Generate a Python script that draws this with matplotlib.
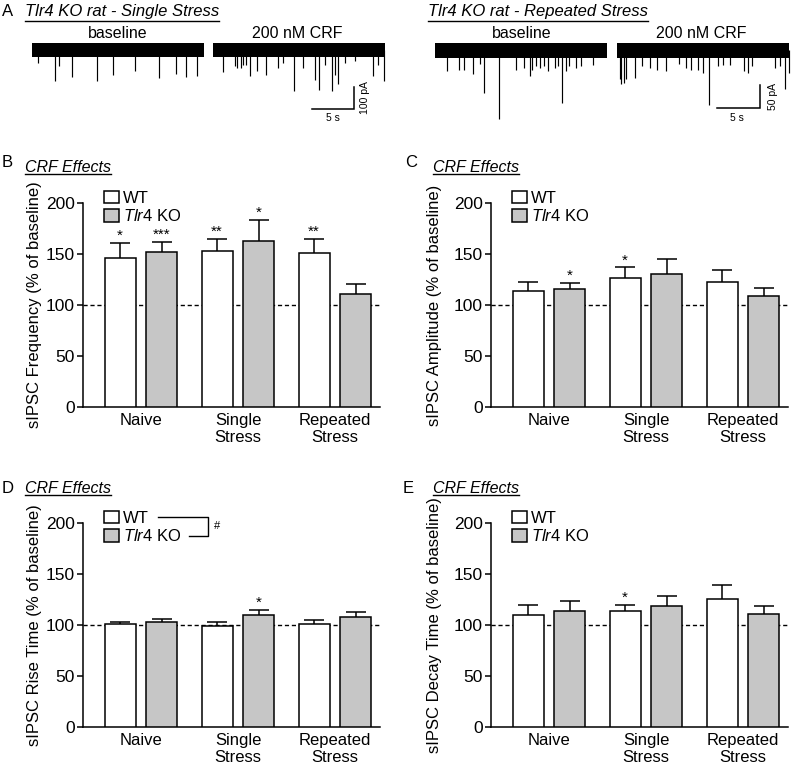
import numpy as np
import matplotlib.pyplot as plt
from matplotlib.patches import Rectangle
from matplotlib.lines import Line2D

plt.rcParams['font.family'] = ['Liberation Sans', 'DejaVu Sans']
plt.rcParams['mathtext.fontset'] = 'custom'
plt.rcParams['mathtext.it'] = 'Liberation Sans:italic'
plt.rcParams['mathtext.rm'] = 'Liberation Sans'

W, H = 791, 769
fig = plt.figure(figsize=(W / 100, H / 100), dpi=100)


def fx(x):
    return x / W


def fy(y):
    return 1 - y / H


# ---------------- data ----------------
groups = ['Naive', 'Single\nStress', 'Repeated\nStress']

freq_wt, freq_wt_err = [146, 153, 151], [15, 12, 13.5]
freq_ko, freq_ko_err = [151.5, 163, 111], [10, 20.5, 9.5]
freq_wt_sig, freq_ko_sig = ['*', '**', '**'], ['***', '*', '']

amp_wt, amp_wt_err = [113.5, 126.3, 123], [9, 10.5, 11]
amp_ko, amp_ko_err = [115.8, 130.5, 109], [5.5, 15, 8]
amp_wt_sig, amp_ko_sig = ['', '*', ''], ['*', '', '']

rise_wt, rise_wt_err = [101, 99, 101], [2, 4.3, 3.6]
rise_ko, rise_ko_err = [102.6, 110, 108], [3.4, 4.5, 5]
rise_wt_sig, rise_ko_sig = ['', '', ''], ['', '*', '']

decay_wt, decay_wt_err = [110, 113.5, 125.3], [9.4, 6.3, 13.7]
decay_ko, decay_ko_err = [113.5, 119, 111], [9.9, 9.7, 7.4]
decay_wt_sig, decay_ko_sig = ['', '*', ''], ['', '', '']

# example traces: event times (s) and peak amplitudes (pA, downward)
ss_base_t = [0.7, 2.7, 3.2, 4.8, 7.7, 9.6, 12.3, 15.1, 17.2, 18.3, 19.7]
ss_base_a = [60, 144, 74, 125, 144, 114, 98, 129, 110, 125, 121]
ss_crf_t = [1.2, 2.6, 2.9, 3.3, 3.6, 3.9, 4.4, 5.2, 6.3, 7.7, 8.3, 9.6, 10.7,
            12.1, 12.6, 13.3, 14.2, 14.5, 14.9, 15.7, 16.9, 19.0, 19.6, 20.4]
ss_crf_a = [99, 75, 83, 83, 68, 68, 121, 98, 114, 83, 60, 188, 83,
            138, 182, 68, 188, 114, 156, 60, 51, 121, 68, 144]
rs_base_t = [1.4, 2.8, 3.4, 4.4, 5.2, 5.7, 7.4, 9.4, 10.4, 11.0, 11.3, 11.7,
             12.2, 12.7, 13.1, 14.0, 14.3, 14.8, 15.2, 15.6, 16.4, 17.0, 18.4]
rs_base_a = [45, 42, 42, 52, 31, 92, 150, 42, 38, 56, 42, 34,
             38, 34, 45, 38, 34, 115, 45, 34, 38, 34, 33]
rs_crf_t = [0.3, 0.5, 0.8, 1.0, 2.1, 2.9, 3.8, 4.7, 5.7, 7.2, 8.0, 8.6, 9.4,
            10.0, 10.7, 11.8, 12.3, 13.1, 14.8, 15.2, 15.7, 18.4, 19.0, 19.5, 20.0]
rs_crf_a = [63, 74, 71, 63, 60, 34, 38, 42, 45, 31, 38, 42, 42,
            49, 120, 34, 33, 33, 45, 49, 34, 38, 34, 85, 49]

gray = '#C6C6C6'
underlines = []


def utext(x, y, s, size, gap):
    t = fig.text(fx(x), fy(y), s, fontsize=size, style='italic',
                 ha='left', va='baseline')
    underlines.append((t, y + gap))


# ---------------- panel A: traces ----------------
def trace_axes(rect, xlim, ylim, traces, noise, dur, sbar):
    ax = fig.add_axes(rect)
    ax.set_xlim(*xlim)
    ax.set_ylim(*ylim)
    ax.axis('off')
    for start, times, amps in traces:
        ax.fill_between([start, start + dur], -noise, noise, color='black', lw=0)
        ax.vlines(np.array(times) + start, 0, -np.array(amps), color='black', lw=0.85)
    tx, ty, ts, pa = sbar
    ax.plot([tx - ts, tx, tx], [ty, ty, ty + pa], color='black', lw=1.1,
            solid_joinstyle='miter')
    return ax


trace_axes([fx(27.8), fy(125), 365.4 / W, 95 / H], (-0.5, 43), (-342, 89.5),
           [(0, ss_base_t, ss_base_a), (21.55, ss_crf_t, ss_crf_a)],
           32, 20.5, (38.3, -270, 5, 100))
trace_axes([fx(430.7), fy(125), 360.5 / W, 95 / H], (-0.5, 41.42), (-162.6, 43.9),
           [(0, rs_base_t, rs_base_a), (21.16, rs_crf_t, rs_crf_a)],
           16, 20.0, (37.8, -126, 5, 50))

fig.text(fx(2), fy(16.5), 'A', fontsize=12, va='baseline')
utext(25, 16, 'Tlr4 KO rat - Single Stress', 12, 4.5)
utext(428, 16, 'Tlr4 KO rat - Repeated Stress', 12, 4.5)
for x, s in [(118, 'baseline'), (297.5, '200 nM CRF'),
             (521.7, 'baseline'), (701.7, '200 nM CRF')]:
    fig.text(fx(x), fy(38.5), s, fontsize=11.5, ha='center', va='baseline')
fig.text(fx(332.5), fy(121), '5 s', fontsize=7.5, ha='center', va='baseline')
fig.text(fx(737), fy(121), '5 s', fontsize=7.5, ha='center', va='baseline')
fig.text(fx(365.5), fy(97.5), '100 pA', fontsize=7.5, rotation=90,
         ha='center', va='center')
fig.text(fx(773), fy(96.7), '50 pA', fontsize=7.5, rotation=90,
         ha='center', va='center')


# ---------------- bar panels ----------------
def bar_panel(left, bottom, wt, wt_err, ko, ko_err, wt_sig, ko_sig,
              ylabel, label_x):
    ax = fig.add_axes([fx(left), fy(bottom), 297 / W, 204 / H])
    x = np.arange(len(groups))
    bw, off = 0.32, 0.216
    ax.axhline(100, color='black', lw=1, ls=(0, (3, 2)), zorder=1)
    for o, vals, errs, sig, col in [(-off, wt, wt_err, wt_sig, 'white'),
                                    (off, ko, ko_err, ko_sig, gray)]:
        ax.errorbar(x + o, vals, yerr=errs, fmt='none', ecolor='black',
                    elinewidth=1.1, capsize=7, capthick=1.1, zorder=2)
        ax.bar(x + o, vals, width=bw, color=col, edgecolor='black', lw=1.1, zorder=3)
        for xi, v, e, s in zip(x + o, vals, errs, sig):
            if s:
                ax.text(xi, v + e + 3, s, ha='center', va='baseline', fontsize=11)
    ax.set_xlim(-0.598, 2.464)
    ax.set_ylim(0, 200)
    ax.set_yticks([0, 50, 100, 150, 200])
    ax.set_xticks(x)
    ax.set_xticklabels(groups, fontsize=12)
    ax.tick_params(axis='x', length=0, pad=4)
    ax.tick_params(axis='y', length=4, width=1.1, pad=2, labelsize=12.5)
    for sp in ['top', 'right']:
        ax.spines[sp].set_visible(False)
    for sp in ['left', 'bottom']:
        ax.spines[sp].set_linewidth(1.1)
    ax.set_ylabel(ylabel, fontsize=12)
    ax.yaxis.set_label_coords(label_x, 0.5)
    handles = [Rectangle((0, 0), 1, 1, facecolor='white', edgecolor='black', lw=1.1),
               Rectangle((0, 0), 1, 1, facecolor=gray, edgecolor='black', lw=1.1)]
    ax.legend(handles, ['WT', r'$\it{Tlr4}$ KO'], loc='upper left',
              bbox_to_anchor=(0.072, 1.06), frameon=False, fontsize=12,
              handlelength=0.85, handleheight=0.75, handletextpad=0.25,
              labelspacing=0.15, borderpad=0, borderaxespad=0)
    return ax


bar_panel(83, 407, freq_wt, freq_wt_err, freq_ko, freq_ko_err, freq_wt_sig,
          freq_ko_sig, 'sIPSC Frequency (% of baseline)', -0.138)
bar_panel(491, 407, amp_wt, amp_wt_err, amp_ko, amp_ko_err, amp_wt_sig,
          amp_ko_sig, 'sIPSC Amplitude (% of baseline)', -0.165)
bar_panel(83, 727, rise_wt, rise_wt_err, rise_ko, rise_ko_err, rise_wt_sig,
          rise_ko_sig, 'sIPSC Rise Time (% of baseline)', -0.138)
bar_panel(491, 727, decay_wt, decay_wt_err, decay_ko, decay_ko_err, decay_wt_sig,
          decay_ko_sig, 'sIPSC Decay Time (% of baseline)', -0.165)

# panel letters and titles
for x, y, s in [(2, 167, 'B'), (405, 167, 'C'), (2, 493, 'D'), (403, 493, 'E')]:
    fig.text(fx(x), fy(y), s, fontsize=12, va='baseline')
utext(25, 172, 'CRF Effects', 11.5, 1.5)
utext(433, 172, 'CRF Effects', 11.5, 1.5)
utext(25, 493, 'CRF Effects', 11.5, 1.5)
utext(433, 493, 'CRF Effects', 11.5, 1.5)

# interaction bracket in D
fig.add_artist(Line2D([fx(158), fx(208), fx(208), fx(189)],
                      [fy(516.7), fy(516.7), fy(535.7), fy(535.7)],
                      color='black', lw=1))
fig.text(fx(217), fy(526), '#', fontsize=8, ha='center', va='center')

# underline the italic titles
renderer = fig.canvas.get_renderer()
for t, uy in underlines:
    bb = t.get_window_extent(renderer)
    fig.add_artist(Line2D([bb.x0 / W, bb.x1 / W], [fy(uy), fy(uy)],
                          color='black', lw=1))

plt.savefig('out.png', dpi=100, facecolor='white')
plt.close()
